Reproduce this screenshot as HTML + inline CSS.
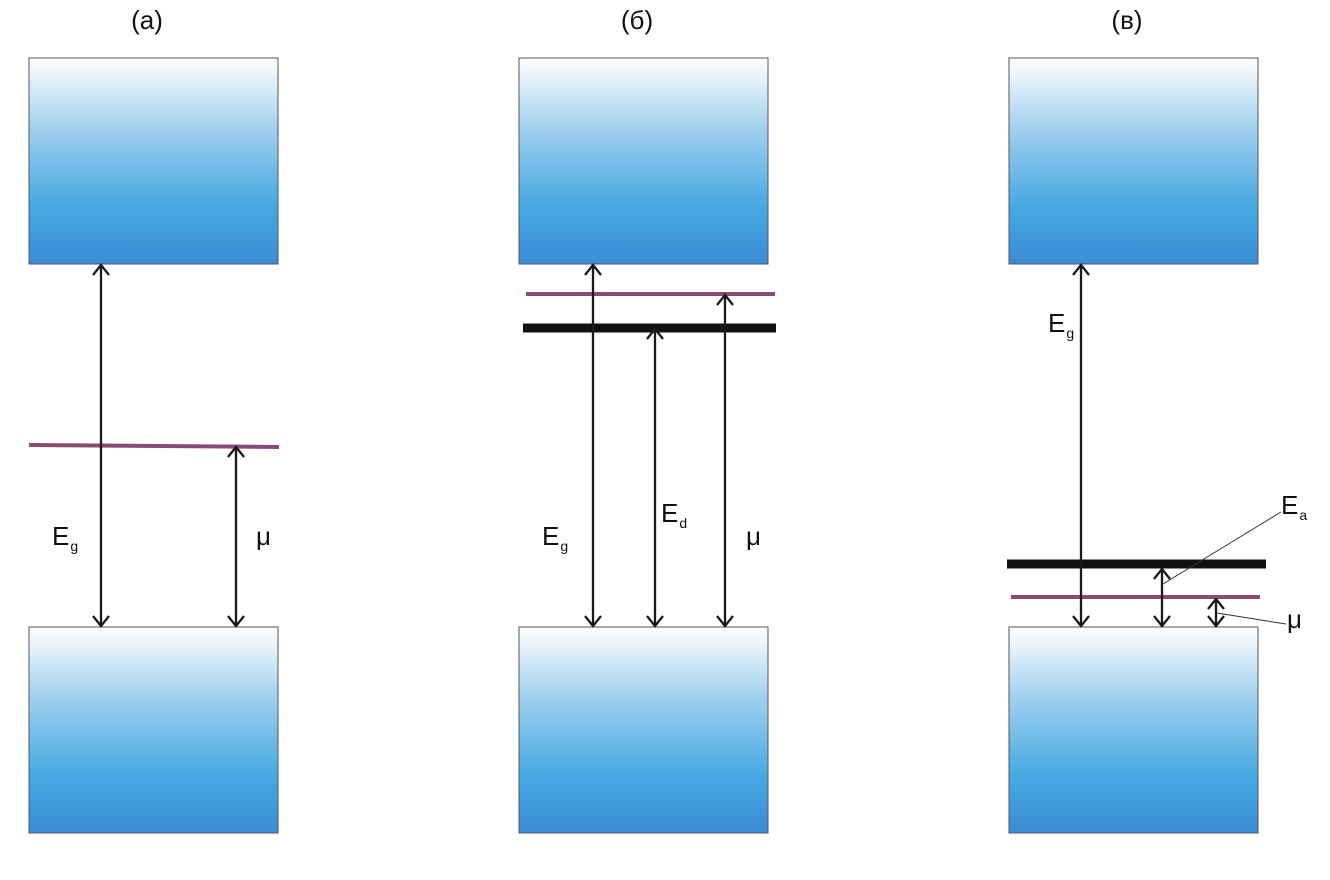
<!DOCTYPE html>
<html><head><meta charset="utf-8"><style>
body{margin:0;background:#fff}
svg{display:block;font-family:"Liberation Sans",sans-serif}
</style></head><body>
<svg id="c" width="1330" height="880" viewBox="0 0 1330 880">
<defs>
<linearGradient id="g" x1="0" y1="0" x2="0" y2="1">
<stop offset="0" stop-color="#ffffff"/>
<stop offset="0.35" stop-color="#9fcfef"/>
<stop offset="0.72" stop-color="#46a9e2"/>
<stop offset="1" stop-color="#3b8cd5"/>
</linearGradient>
</defs>
</svg>
<script>
const panelTitles=["(а)","(б)","(в)"];
const panelX=[29,519,1009];
// purple (chemical potential) levels per panel: [x1,x2,y]
const muLevels=[[29,279,445],[526,775,294],[1011,1260,597]];
// black impurity levels per panel
const impLevels=[null,[523,776,328],[1007,1266,564]];
// arrows: [panel x, y1, y2]
const arrows=[[101,264,627],[236,446,627],[593,264,627],[655,328,627],[725,294,627],[1081,264,627],[1162,568,627],[1216,598,627]];
const NS="http://www.w3.org/2000/svg";
const svg=document.getElementById('c');
function mk(t,a){const e=document.createElementNS(NS,t);for(const k in a)e.setAttribute(k,a[k]);svg.appendChild(e);return e;}
panelX.forEach((x,i)=>{
  let t=mk('text',{x:x+118,y:29,'font-size':26,'text-anchor':'middle',fill:'#111'});t.textContent=panelTitles[i];
  
  
  let r=mk('rect',{x:x,y:58,width:249,height:206,fill:'url(#g)',stroke:'#555','stroke-width':1});
  
  
  let r2=mk('rect',{x:x,y:627,width:249,height:206,fill:'url(#g)',stroke:'#555','stroke-width':1});
  
  
});
muLevels.forEach(l=>{
  let e=mk('line',{x1:l[0],x2:l[1],y1:l[2],y2:l[2]+(l[0]===29?2:0),stroke:'#8a4a78','stroke-width':4});
  
  
});
impLevels.forEach(l=>{if(!l)return;
  let e=mk('line',{x1:l[0],x2:l[1],y1:l[2],y2:l[2],stroke:'#111','stroke-width':9});
  
  
});
arrows.forEach(a=>{
  const[x,y1,y2]=a;
  let g=mk('path',{d:`M${x} ${y1+1}V${y2-1}M${x-8} ${y1+11}L${x} ${y1+1}L${x+8} ${y1+11}M${x-8} ${y2-11}L${x} ${y2-1}L${x+8} ${y2-11}`,stroke:'#1a1a1a','stroke-width':2.3,fill:'none'});
  
  
});
mk('line',{x1:1163,y1:584,x2:1281,y2:512,stroke:'#333','stroke-width':1});
mk('line',{x1:1217,y1:613,x2:1286,y2:624,stroke:'#333','stroke-width':1});
const labels=[["E","g",52,545],["μ","",256,545],["E","g",542,545],["E","d",661,522],["μ","",746,545],["E","g",1048,332],["E","a",1281,514],["μ","",1287,628]];
labels.forEach(l=>{
  let t=mk('text',{x:l[2],y:l[3],'font-size':26,fill:'#111'});
  
  
  t.textContent=l[0];
  if(l[1]){const s=document.createElementNS(NS,'tspan');s.setAttribute('font-size',14);s.setAttribute('dy',6);s.setAttribute('dx',1);s.textContent=l[1];t.appendChild(s);}
});
</script>
</body></html>
